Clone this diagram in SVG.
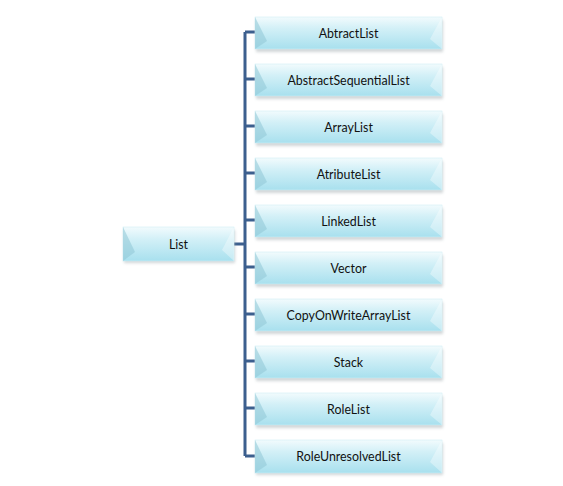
<svg xmlns="http://www.w3.org/2000/svg" width="563" height="486" viewBox="0 0 563 486">
<style>
.lbl{font-family:Lato,"Open Sans","Liberation Sans",sans-serif;font-size:12.4px;fill:#111;text-anchor:middle;dominant-baseline:central}
.box{fill:url(#g);stroke:#cfeef6;stroke-width:0.6}
.bl{fill:#8fc7d6;opacity:0.55}
.br{fill:#ffffff;opacity:0.35}
.sh{fill:#9aa4a8;opacity:0.45;filter:url(#blur)}
.con{stroke:#3c5f8e;stroke-width:3;fill:none}
</style>
<defs>
<linearGradient id="g" x1="0" y1="0" x2="0" y2="1">
<stop offset="0" stop-color="#f2fbfd"/>
<stop offset="0.35" stop-color="#d3f0f7"/>
<stop offset="1" stop-color="#a8e0ee"/>
</linearGradient>
<filter id="blur" x="-10%" y="-30%" width="120%" height="160%"><feGaussianBlur stdDeviation="1.5"/></filter>
</defs>
<g id="connectors">
<path class="con" d="M234 244H245M245 32V456M245 32H256M245 79H256M245 126H256M245 173H256M245 220H256M245 267H256M245 314H256M245 361H256M245 408H256M245 456H256"/>
</g>
<g id="list">
<rect class="sh" x="124" y="230" width="111" height="33"/>
<rect class="box" x="123" y="227" width="111" height="34"/>
<polygon class="bl" points="123,227 135,252 123,261"/>
<polygon class="br" points="234,227 222,250 234,261"/>
<text class="lbl" x="178.5" y="244">List</text>
</g>
<g id="n1"><rect class="sh" x="256" y="20" width="187" height="32"/><rect class="box" x="255" y="17" width="187" height="32"/><polygon class="bl" points="255,17 267,41 255,49"/><polygon class="br" points="442,17 430,39 442,49"/><text class="lbl" x="348.5" y="33">AbtractList</text></g>
<g id="n2"><rect class="sh" x="256" y="67" width="187" height="32"/><rect class="box" x="255" y="64" width="187" height="32"/><polygon class="bl" points="255,64 267,88 255,96"/><polygon class="br" points="442,64 430,86 442,96"/><text class="lbl" x="348.5" y="80">AbstractSequentialList</text></g>
<g id="n3"><rect class="sh" x="256" y="114" width="187" height="32"/><rect class="box" x="255" y="111" width="187" height="32"/><polygon class="bl" points="255,111 267,135 255,143"/><polygon class="br" points="442,111 430,133 442,143"/><text class="lbl" x="348.5" y="127">ArrayList</text></g>
<g id="n4"><rect class="sh" x="256" y="161" width="187" height="32"/><rect class="box" x="255" y="158" width="187" height="32"/><polygon class="bl" points="255,158 267,182 255,190"/><polygon class="br" points="442,158 430,180 442,190"/><text class="lbl" x="348.5" y="174">AtributeList</text></g>
<g id="n5"><rect class="sh" x="256" y="208" width="187" height="32"/><rect class="box" x="255" y="205" width="187" height="32"/><polygon class="bl" points="255,205 267,229 255,237"/><polygon class="br" points="442,205 430,227 442,237"/><text class="lbl" x="348.5" y="221">LinkedList</text></g>
<g id="n6"><rect class="sh" x="256" y="255" width="187" height="32"/><rect class="box" x="255" y="252" width="187" height="32"/><polygon class="bl" points="255,252 267,276 255,284"/><polygon class="br" points="442,252 430,274 442,284"/><text class="lbl" x="348.5" y="268">Vector</text></g>
<g id="n7"><rect class="sh" x="256" y="302" width="187" height="32"/><rect class="box" x="255" y="299" width="187" height="32"/><polygon class="bl" points="255,299 267,323 255,331"/><polygon class="br" points="442,299 430,321 442,331"/><text class="lbl" x="348.5" y="315">CopyOnWriteArrayList</text></g>
<g id="n8"><rect class="sh" x="256" y="349" width="187" height="32"/><rect class="box" x="255" y="346" width="187" height="32"/><polygon class="bl" points="255,346 267,370 255,378"/><polygon class="br" points="442,346 430,368 442,378"/><text class="lbl" x="348.5" y="362">Stack</text></g>
<g id="n9"><rect class="sh" x="256" y="396" width="187" height="32"/><rect class="box" x="255" y="393" width="187" height="32"/><polygon class="bl" points="255,393 267,417 255,425"/><polygon class="br" points="442,393 430,415 442,425"/><text class="lbl" x="348.5" y="409">RoleList</text></g>
<g id="n10"><rect class="sh" x="256" y="443" width="187" height="32"/><rect class="box" x="255" y="440" width="187" height="33"/><polygon class="bl" points="255,440 267,465 255,473"/><polygon class="br" points="442,440 430,462 442,473"/><text class="lbl" x="348.5" y="456.5">RoleUnresolvedList</text></g>
</svg>
